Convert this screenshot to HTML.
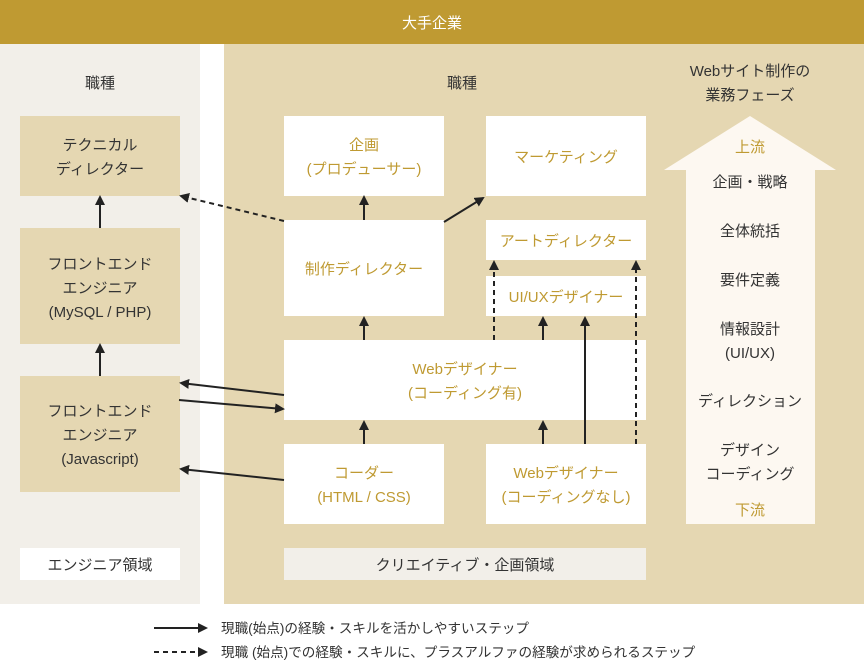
<!DOCTYPE html>
<html><head><meta charset="utf-8"><style>
html,body{margin:0;padding:0;background:#fff;}
svg{display:block;font-family:"Liberation Sans","Noto Sans CJK JP",sans-serif;}
.g{fill:#bf9a32;font-size:15px;text-anchor:middle;}
.d{fill:#333;font-size:15px;text-anchor:middle;}
</style></head><body>
<svg width="864" height="664" viewBox="0 0 864 664" xmlns="http://www.w3.org/2000/svg">
<defs>
<marker id="ah" markerWidth="10" markerHeight="10" refX="8" refY="5" orient="auto" markerUnits="userSpaceOnUse"><path d="M0,0 L10,5 L0,10 Z" fill="#222"/></marker>
</defs>
<rect x="0" y="0" width="864" height="44" fill="#bf9a32"/>
<text x="432" y="28" fill="#fff" font-size="15" text-anchor="middle">大手企業</text>
<rect x="0" y="44" width="200" height="560" fill="#f2efe9"/>
<rect x="224" y="44" width="640" height="560" fill="#e5d7b2"/>
<text class="d" x="100" y="88">職種</text>
<text class="d" x="462" y="88">職種</text>
<text class="d" x="750" y="76">Webサイト制作の</text>
<text class="d" x="750" y="100">業務フェーズ</text>

<rect x="20" y="116" width="160" height="80" fill="#e5d7b2"/>
<text class="d" x="100" y="150">テクニカル</text><text class="d" x="100" y="174">ディレクター</text>
<rect x="20" y="228" width="160" height="116" fill="#e5d7b2"/>
<text class="d" x="100" y="269">フロントエンド</text><text class="d" x="100" y="293">エンジニア</text><text class="d" x="100" y="317">(MySQL / PHP)</text>
<rect x="20" y="376" width="160" height="116" fill="#e5d7b2"/>
<text class="d" x="100" y="416">フロントエンド</text><text class="d" x="100" y="440">エンジニア</text><text class="d" x="100" y="464">(Javascript)</text>
<rect x="20" y="548" width="160" height="32" fill="#fff"/>
<text class="d" x="100" y="570">エンジニア領域</text>

<rect x="284" y="116" width="160" height="80" fill="#fff"/>
<text class="g" x="364" y="150">企画</text><text class="g" x="364" y="174">(プロデューサー)</text>
<rect x="486" y="116" width="160" height="80" fill="#fff"/>
<text class="g" x="566" y="162">マーケティング</text>
<rect x="284" y="220" width="160" height="96" fill="#fff"/>
<text class="g" x="364" y="274">制作ディレクター</text>
<rect x="486" y="220" width="160" height="40" fill="#fff"/>
<text class="g" x="566" y="246">アートディレクター</text>
<rect x="486" y="276" width="160" height="40" fill="#fff"/>
<text class="g" x="566" y="302">UI/UXデザイナー</text>
<rect x="284" y="340" width="362" height="80" fill="#fff"/>
<text class="g" x="465" y="374">Webデザイナー</text><text class="g" x="465" y="398">(コーディング有)</text>
<rect x="284" y="444" width="160" height="80" fill="#fff"/>
<text class="g" x="364" y="478">コーダー</text><text class="g" x="364" y="502">(HTML / CSS)</text>
<rect x="486" y="444" width="160" height="80" fill="#fff"/>
<text class="g" x="566" y="478">Webデザイナー</text><text class="g" x="566" y="502">(コーディングなし)</text>
<rect x="284" y="548" width="362" height="32" fill="#f2efe9"/>
<text class="d" x="465" y="570">クリエイティブ・企画領域</text>

<polygon points="750,116 836,170 815,170 815,524 686,524 686,170 664,170" fill="#fdf8f1"/>
<text class="g" x="750" y="152">上流</text>
<text class="d" x="750" y="187">企画・戦略</text>
<text class="d" x="750" y="236">全体統括</text>
<text class="d" x="750" y="285">要件定義</text>
<text class="d" x="750" y="334">情報設計</text>
<text class="d" x="750" y="358">(UI/UX)</text>
<text class="d" x="750" y="406">ディレクション</text>
<text class="d" x="750" y="455">デザイン</text>
<text class="d" x="750" y="479">コーディング</text>
<text class="g" x="750" y="515">下流</text>

<g stroke="#222" stroke-width="2" fill="none" marker-end="url(#ah)">
<line x1="100" y1="228" x2="100" y2="197"/>
<line x1="100" y1="376" x2="100" y2="345"/>
<line x1="364" y1="220" x2="364" y2="197"/>
<line x1="364" y1="340" x2="364" y2="318"/>
<line x1="364" y1="444" x2="364" y2="422"/>
<line x1="444" y1="222" x2="483" y2="198"/>
<line x1="543" y1="340" x2="543" y2="318"/>
<line x1="543" y1="444" x2="543" y2="422"/>
<line x1="585" y1="444" x2="585" y2="318"/>
<line x1="284" y1="395" x2="181" y2="383"/>
<line x1="179" y1="400" x2="283" y2="409"/>
<line x1="284" y1="480" x2="181" y2="469"/>
<line x1="284" y1="221" x2="181" y2="196" stroke-dasharray="5,4"/>
<line x1="494" y1="340" x2="494" y2="262" stroke-dasharray="5,4"/>
<line x1="636" y1="444" x2="636" y2="262" stroke-dasharray="5,4"/>
<line x1="154" y1="628" x2="206" y2="628"/>
<line x1="154" y1="652" x2="206" y2="652" stroke-dasharray="5,4"/>
</g>
<text x="221" y="633" fill="#333" font-size="13.6">現職(始点)の経験・スキルを活かしやすいステップ</text>
<text x="221" y="657" fill="#333" font-size="13.6">現職 (始点)での経験・スキルに、プラスアルファの経験が求められるステップ</text>
</svg>
</body></html>
